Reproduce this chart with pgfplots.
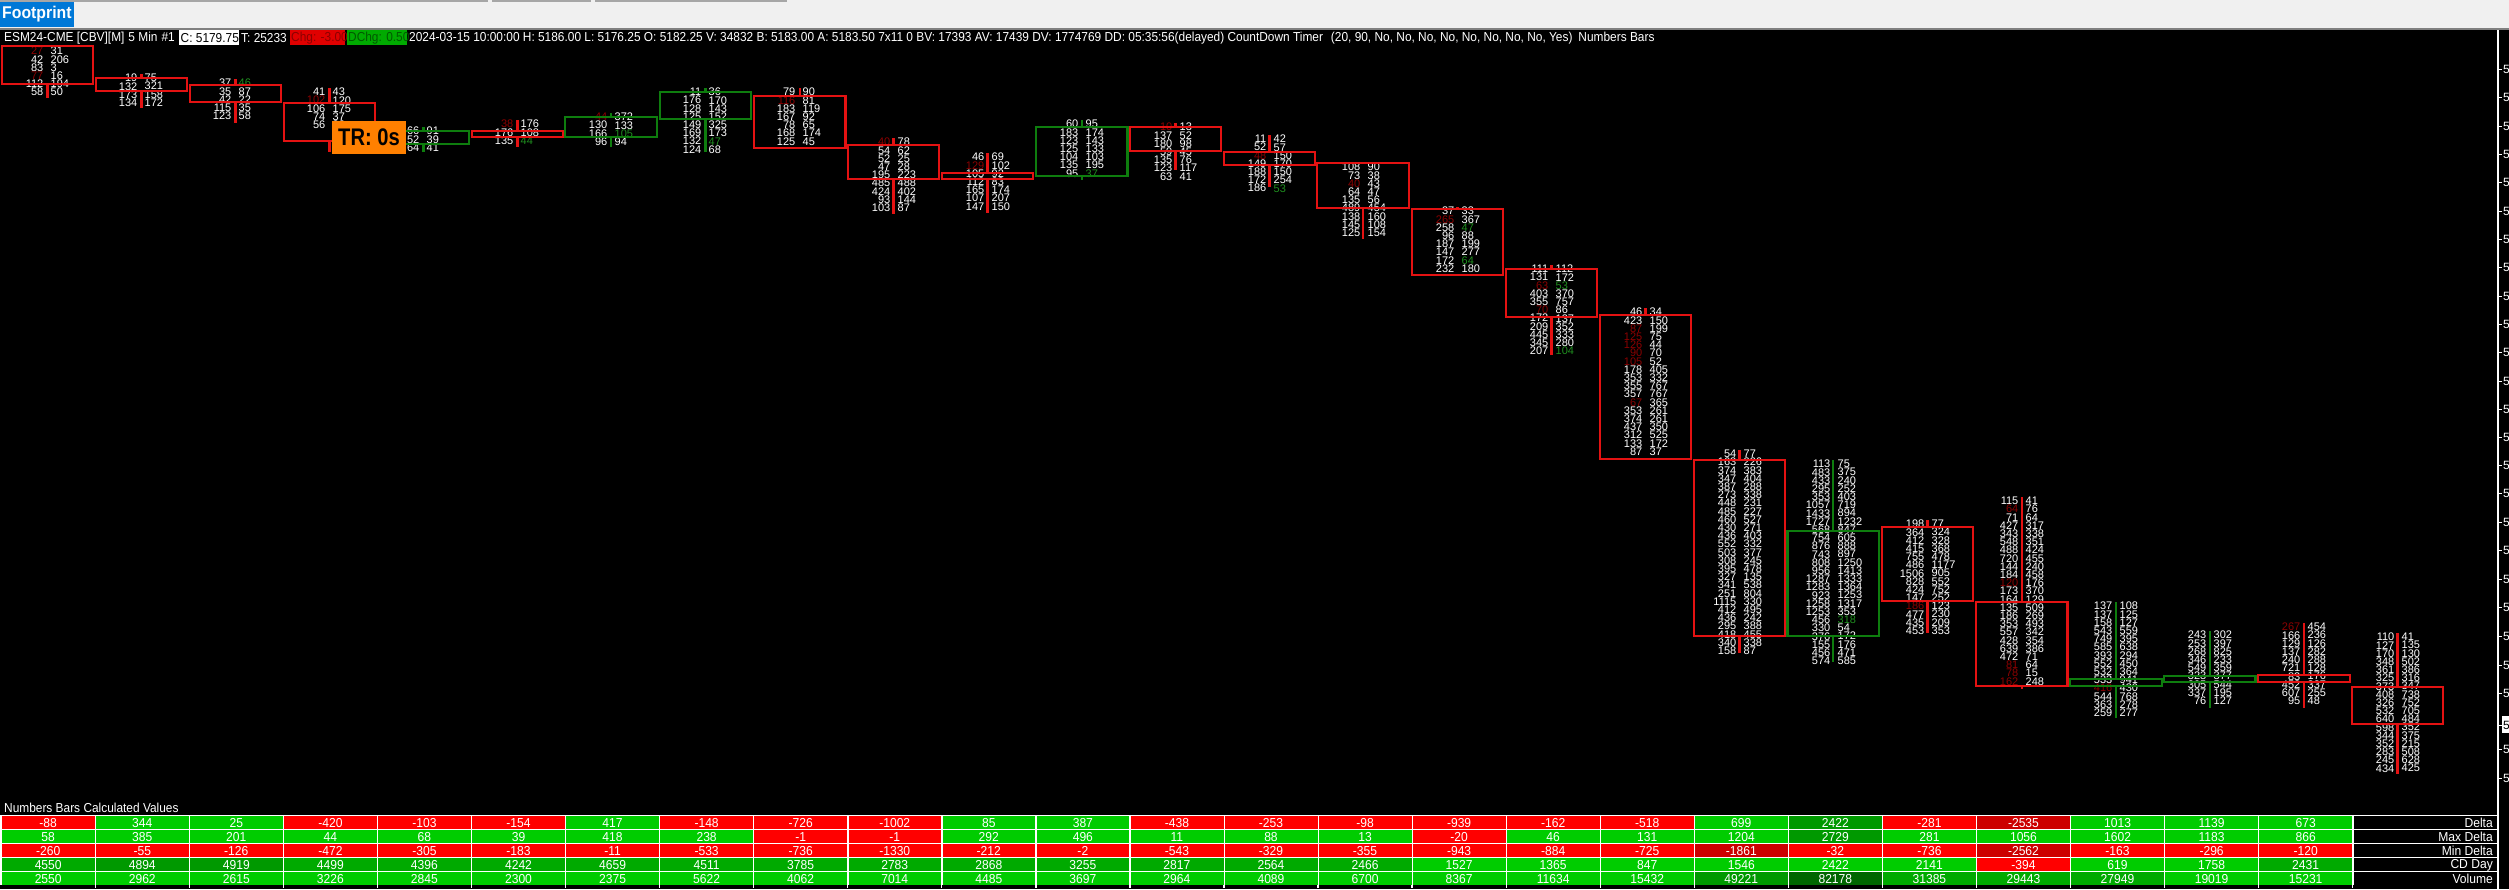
\documentclass[border=0pt]{standalone}
\usepackage{fontspec}
\usepackage{pgfplots}
\pgfplotsset{compat=1.18}
\setmainfont{Liberation Sans}
\newfontfamily\uif[FakeStretch=0.93]{Liberation Sans}
\newfontfamily\hdf[FakeStretch=0.915]{Liberation Sans}
\newfontfamily\trf[FakeStretch=0.84]{Liberation Sans}
\definecolor{cr}{HTML}{E41212}
\definecolor{cg}{HTML}{0E7D0E}
\definecolor{R}{HTML}{FF0000}
\definecolor{D}{HTML}{CC0000}
\definecolor{G}{HTML}{00CC00}
\definecolor{H}{HTML}{00AA00}
\definecolor{I}{HTML}{009900}
\definecolor{J}{HTML}{006600}
\definecolor{dk}{HTML}{8B0000}
\definecolor{gn}{HTML}{1F8F1F}
\definecolor{chrome}{HTML}{F0F0F0}
\definecolor{tab}{HTML}{0078D7}
\definecolor{hred}{HTML}{E00000}
\definecolor{hgrn}{HTML}{00AA00}
\newcommand\rd[1]{\textcolor{dk}{#1}}
\newcommand\gd[1]{\textcolor{gn}{#1}}
\newcount\col
\newcount\row
\newcommand\newrow[1]{\global\col=0 \global\row=#1 }
\newcommand\cell[2]{%
 \pgfmathsetmacro\xa{2+94.06*\the\col}%
 \pgfmathsetmacro\xb{94.8+94.06*\the\col}%
 \pgfmathsetmacro\xc{48.2+94.06*\the\col}%
 \pgfmathsetmacro\ya{816.3+14*\the\row}%
 \pgfmathsetmacro\yb{829.4+14*\the\row}%
 \pgfmathsetmacro\yc{823+14*\the\row}%
 \edef\tmp{\noexpand\addplot[fill=#2,draw=none,forget plot] coordinates {(\xa,\ya)(\xb,\ya)(\xb,\yb)(\xa,\yb)} -- cycle; \noexpand\node[font=\noexpand\fontsize{13}{14}\noexpand\uif,text=white,inner sep=0pt] at (axis cs:\xc,\yc) {#1};}\tmp
 \global\advance\col by 1 }
% xleft xright top bottom high low colour
\newcommand\candle[7]{%
 \addplot[#7,line width=2.2pt,forget plot] coordinates {(#1,#3)(#2,#3)(#2,#4)(#1,#4)} -- cycle;
 \pgfmathsetmacro\xm{(#1+#2)/2}%
 \edef\tmp{\noexpand\addplot[#7,line width=2.2pt,forget plot] coordinates {(\xm,#5)(\xm,#3)}; \noexpand\addplot[#7,line width=2.2pt,forget plot] coordinates {(\xm,#4)(\xm,#6)};}\tmp
}
\newcommand\fp[4]{%
 \node[anchor=north east,xshift=-3.5pt,align=right,inner sep=0pt,text=white,font=\fontsize{11}{8.2}\selectfont\setlength{\lineskiplimit}{-6pt}] at (axis cs:#1,#2) {#3};
 \node[anchor=north west,xshift=3.5pt,align=left,inner sep=0pt,text=white,font=\fontsize{11}{8.2}\selectfont\setlength{\lineskiplimit}{-6pt}] at (axis cs:#1,#2) {#4};
}
\newcommand\hdr[2]{\node[anchor=west,inner sep=0pt,text=white,font=\fontsize{13}{14}\hdf] at (axis cs:#1,38) {#2};}
\newcommand\prc[1]{%
 \addplot[white,line width=1pt,forget plot] coordinates {(2499,#1)(2502,#1)};
 \node[anchor=west,inner sep=0pt,text=white,font=\fontsize{12}{14}\selectfont] at (axis cs:2503,#1) {5};
}
\begin{document}
\begin{tikzpicture}
\begin{axis}[
  scale only axis,width=2509pt,height=889pt,
  xmin=0,xmax=2509,ymin=0,ymax=889,y dir=reverse,
  ticks=none,axis line style={draw=none},
  axis background/.style={fill=black},
  clip=true,
]
% window chrome
\addplot[fill=chrome,draw=none,forget plot] coordinates {(0,0)(2509,0)(2509,28)(0,28)} -- cycle;
\addplot[fill=gray,draw=none,forget plot] coordinates {(0,28)(2509,28)(2509,30)(0,30)} -- cycle;
\addplot[fill=gray!70,draw=none,forget plot] coordinates {(0,0)(488,0)(488,1.5)(0,1.5)} -- cycle;
\addplot[fill=gray!70,draw=none,forget plot] coordinates {(492,0)(591,0)(591,1.5)(492,1.5)} -- cycle;
\addplot[fill=gray!70,draw=none,forget plot] coordinates {(595,0)(787,0)(787,1.5)(595,1.5)} -- cycle;
\addplot[fill=tab,draw=none,forget plot] coordinates {(0,2)(74,2)(74,27)(0,27)} -- cycle;
\node[anchor=west,inner sep=0pt,text=white,font=\fontsize{17}{18}\bfseries\uif] at (axis cs:2,14.5) {Footprint};
% header strip
\addplot[fill=white,draw=none,forget plot] coordinates {(179,30)(239,30)(239,45)(179,45)} -- cycle;
\addplot[fill=hred,draw=none,forget plot] coordinates {(290,30)(345,30)(345,45)(290,45)} -- cycle;
\addplot[fill=hgrn,draw=none,forget plot] coordinates {(347,30)(407,30)(407,45)(347,45)} -- cycle;
\hdr{4}{ESM24-CME [CBV][M]\hspace{4pt}5 Min\hspace{4pt}\#1}
\node[anchor=west,inner sep=0pt,text=black,font=\fontsize{13}{14}\hdf] at (axis cs:180.5,38) {C: 5179.75};
\hdr{241}{T: 25233}
\node[anchor=west,inner sep=0pt,text=dk,font=\fontsize{13}{14}\hdf] at (axis cs:291,38) {Chg: -3.00};
\node[anchor=west,inner sep=0pt,text=black!65!green,font=\fontsize{13}{14}\hdf] at (axis cs:348,38) {DChg: 0.50};
\hdr{409}{2024-03-15 10:00:00 H: 5186.00 L: 5176.25 O: 5182.25 V: 34832 B: 5183.00 A: 5183.50 7x11 0 BV: 17393 AV: 17439 DV: 1774769 DD: 05:35:56(delayed) CountDown Timer\hspace{8pt}(20, 90, No, No, No, No, No, No, No, No, Yes)\hspace{6pt}Numbers Bars}
% right edge
\addplot[white,line width=1.4pt,forget plot] coordinates {(2498,30)(2498,889)};
\prc{69}\prc{97}\prc{126}\prc{154}\prc{182}\prc{211}\prc{239}\prc{267}\prc{296}\prc{324}\prc{352}\prc{381}\prc{409}\prc{437}\prc{465}\prc{493}\prc{522}\prc{550}\prc{579}\prc{607}\prc{636}\prc{665}\prc{693}\prc{749}\prc{778}
\addplot[fill=white,draw=none,forget plot] coordinates {(2502,716)(2509,716)(2509,733)(2502,733)} -- cycle;
\node[anchor=west,inner sep=0pt,text=black,font=\fontsize{12}{14}\selectfont] at (axis cs:2503,725) {5};
\addplot[white,line width=1pt,forget plot] coordinates {(2499,725)(2502,725)};
% footprint numbers
\fp{47}{47}{\rd{27}\\42\\83\\\rd{77}\\112\\58}{31\\206\\3\\16\\194\\50}
\fp{141}{74}{19\\132\\173\\134}{75\\321\\158\\172}
\fp{235}{79}{37\\35\\42\\115\\123}{\gd{46}\\87\\22\\35\\58}
\fp{329}{88}{41\\\rd{102}\\106\\74\\56}{43\\120\\175\\37\\32}
\fp{423}{127}{66\\52\\64}{91\\39\\41}
\fp{517}{120}{\rd{38}\\176\\135}{176\\108\\\gd{44}}
\fp{611}{113}{\rd{44}\\130\\166\\96}{372\\133\\\gd{105}\\94}
\fp{705}{88}{11\\176\\128\\125\\149\\169\\132\\124}{36\\170\\143\\152\\325\\173\\\gd{47}\\68}
\fp{799}{88}{79\\\rd{116}\\183\\167\\78\\168\\125}{90\\81\\119\\92\\65\\174\\45}
\fp{894}{138}{\rd{40}\\54\\52\\47\\195\\485\\424\\93\\103}{78\\62\\25\\28\\223\\488\\402\\144\\87}
\fp{988}{153}{46\\\rd{129}\\105\\112\\165\\107\\147}{69\\102\\92\\83\\174\\207\\150}
\fp{1082}{120}{60\\183\\123\\125\\104\\135\\95}{95\\174\\143\\133\\103\\195\\\gd{37}}
\fp{1176}{123}{\rd{10}\\137\\180\\59\\135\\123\\63}{13\\52\\98\\45\\76\\117\\41}
\fp{1270}{135}{11\\52\\\rd{48}\\149\\188\\172\\186}{42\\57\\150\\170\\150\\254\\\gd{53}}
\fp{1364}{163}{108\\73\\\rd{40}\\64\\135\\489\\138\\145\\125}{90\\38\\43\\47\\56\\454\\160\\108\\154}
\fp{1458}{207}{37\\\rd{265}\\258\\96\\187\\147\\172\\232}{33\\367\\\gd{47}\\88\\199\\277\\\gd{64}\\180}
\fp{1552}{265}{111\\131\\\rd{63}\\403\\355\\\rd{70}\\172\\209\\445\\345\\207}{112\\172\\\gd{53}\\370\\757\\86\\137\\352\\333\\280\\\gd{104}}
\fp{1646}{308}{46\\423\\\rd{87}\\\rd{125}\\\rd{126}\\\rd{90}\\\rd{105}\\178\\353\\355\\357\\\rd{67}\\353\\374\\437\\312\\133\\87}{34\\150\\199\\75\\44\\70\\52\\405\\332\\767\\767\\365\\261\\261\\350\\525\\172\\37}
\fp{1740}{450}{54\\163\\374\\347\\387\\273\\448\\485\\460\\430\\436\\552\\503\\308\\395\\327\\341\\251\\1115\\412\\436\\295\\418\\340\\158}{77\\226\\383\\404\\288\\338\\231\\227\\527\\271\\403\\332\\377\\245\\478\\135\\538\\804\\330\\495\\242\\388\\455\\338\\87}
\fp{1834}{460}{113\\483\\433\\295\\353\\1057\\1433\\1727\\568\\754\\876\\743\\808\\956\\1287\\1283\\923\\1258\\1253\\456\\330\\376\\155\\456\\574}{75\\375\\240\\252\\403\\719\\894\\1232\\847\\605\\888\\897\\1250\\1413\\1333\\1364\\1253\\1317\\353\\\gd{318}\\54\\172\\176\\471\\585}
\fp{1928}{520}{198\\364\\412\\415\\755\\486\\1506\\828\\424\\147\\\rd{186}\\477\\435\\453}{77\\324\\328\\368\\478\\1177\\905\\552\\752\\252\\123\\230\\209\\353}
\fp{2022}{497}{115\\\rd{64}\\71\\427\\343\\548\\488\\720\\144\\184\\\rd{120}\\173\\164\\135\\186\\353\\557\\428\\639\\472\\\rd{81}\\\rd{78}\\\rd{162}}{41\\76\\64\\317\\338\\351\\424\\455\\240\\458\\176\\370\\129\\509\\269\\493\\342\\354\\386\\71\\64\\15\\248}
\fp{2116}{602}{137\\137\\158\\543\\749\\585\\393\\552\\532\\533\\\rd{416}\\544\\363\\259}{108\\125\\127\\559\\395\\638\\294\\450\\364\\941\\430\\768\\278\\277}
\fp{2210}{631}{243\\253\\268\\346\\549\\323\\305\\337\\76}{302\\397\\825\\233\\359\\377\\544\\195\\127}
\fp{2304}{623}{\rd{267}\\166\\129\\137\\240\\721\\83\\452\\607\\95}{454\\236\\126\\282\\288\\128\\176\\337\\255\\48}
\fp{2398}{633}{110\\127\\170\\348\\361\\325\\373\\408\\326\\532\\640\\598\\344\\352\\283\\245\\434}{41\\135\\130\\502\\386\\316\\347\\738\\752\\705\\484\\352\\375\\215\\508\\628\\425}
% candles
\candle{2}{93}{46}{84}{46}{98}{cr}
\candle{96}{187}{78}{91}{74}{108}{cr}
\candle{190}{281}{85}{102}{79}{123}{cr}
\candle{284}{375}{103}{141}{88}{152}{cr}
\candle{378}{469}{131}{144}{127}{152}{cg}
\candle{472}{563}{131}{137}{120}{147}{cr}
\candle{565}{657}{117}{137}{113}{147}{cg}
\candle{660}{751}{92}{119}{88}{152}{cg}
\candle{754}{845.5}{96}{148}{88}{147}{cr}
\candle{848}{939}{145}{179}{138}{214}{cr}
\candle{942}{1033}{173}{179}{153}{213}{cr}
\candle{1036}{1127.5}{127}{176}{120}{180}{cg}
\candle{1130}{1221}{127}{151}{123}{170}{cr}
\candle{1224}{1315}{152}{165}{135}{187}{cr}
\candle{1317}{1409}{163}{208}{163}{239}{cr}
\candle{1412}{1503}{209}{275}{207}{275}{cr}
\candle{1506}{1597}{269}{317}{265}{355}{cr}
\candle{1600}{1691}{315}{459}{308}{460}{cr}
\candle{1694}{1785}{460}{636}{450}{653}{cr}
\candle{1787.5}{1879}{531}{636}{460}{662}{cg}
\candle{1882}{1973}{527}{601}{520}{633}{cr}
\candle{1976}{2067.5}{602}{686}{497}{689}{cr}
\candle{2070}{2162}{679}{686}{602}{718}{cg}
\candle{2164}{2255.5}{676}{682}{631}{708}{cg}
\candle{2258}{2350}{675}{682}{623}{708}{cr}
\candle{2352}{2443}{687}{724}{633}{774}{cr}
% countdown
\addplot[fill=orange,draw=none,forget plot] coordinates {(332,121)(406,121)(406,154)(332,154)} -- cycle;
\node[inner sep=0pt,text=black,font=\fontsize{24}{26}\bfseries\trf] at (axis cs:369,137.5) {TR: 0s};
% table
\node[anchor=west,inner sep=0pt,text=white,font=\fontsize{13}{14}\hdf] at (axis cs:4,808) {Numbers Bars Calculated Values};
\addplot[fill=white,draw=none,forget plot] coordinates {(0,815)(2497,815)(2497,885)(0,885)} -- cycle;
\pgfplotsforeachungrouped \k in {1,...,25}{%
 \pgfmathsetmacro\xt{1.2+94.06*\k}%
 \edef\tmp{\noexpand\addplot[white,line width=1.3pt,forget plot] coordinates {(\xt,885)(\xt,887.5)};}\tmp
}
\newrow{0}
\cell{-88}{R}\cell{344}{G}\cell{25}{G}\cell{-420}{R}\cell{-103}{R}\cell{-154}{R}\cell{417}{G}\cell{-148}{R}\cell{-726}{R}\cell{-1002}{R}\cell{85}{G}\cell{387}{G}\cell{-438}{R}\cell{-253}{R}\cell{-98}{R}\cell{-939}{R}\cell{-162}{R}\cell{-518}{R}\cell{699}{G}\cell{2422}{I}\cell{-281}{R}\cell{-2535}{D}\cell{1013}{G}\cell{1139}{G}\cell{673}{G}
\newrow{1}
\cell{58}{G}\cell{385}{G}\cell{201}{G}\cell{44}{G}\cell{68}{G}\cell{39}{G}\cell{418}{G}\cell{238}{G}\cell{-1}{R}\cell{-1}{R}\cell{292}{G}\cell{496}{G}\cell{11}{G}\cell{88}{G}\cell{13}{G}\cell{-20}{R}\cell{46}{G}\cell{131}{G}\cell{1204}{G}\cell{2729}{I}\cell{281}{G}\cell{1056}{G}\cell{1602}{G}\cell{1183}{G}\cell{866}{G}
\newrow{2}
\cell{-260}{R}\cell{-55}{R}\cell{-126}{R}\cell{-472}{R}\cell{-305}{R}\cell{-183}{R}\cell{-11}{R}\cell{-533}{R}\cell{-736}{R}\cell{-1330}{R}\cell{-212}{R}\cell{-2}{R}\cell{-543}{R}\cell{-329}{R}\cell{-355}{R}\cell{-943}{R}\cell{-884}{R}\cell{-725}{R}\cell{-1861}{D}\cell{-32}{R}\cell{-736}{R}\cell{-2562}{D}\cell{-163}{R}\cell{-296}{R}\cell{-120}{R}
\newrow{3}
\cell{4550}{H}\cell{4894}{I}\cell{4919}{I}\cell{4499}{H}\cell{4396}{H}\cell{4242}{H}\cell{4659}{H}\cell{4511}{H}\cell{3785}{H}\cell{2783}{H}\cell{2868}{H}\cell{3255}{H}\cell{2817}{H}\cell{2564}{H}\cell{2466}{H}\cell{1527}{G}\cell{1365}{G}\cell{847}{G}\cell{1546}{G}\cell{2422}{G}\cell{2141}{G}\cell{-394}{R}\cell{619}{G}\cell{1758}{G}\cell{2431}{H}
\newrow{4}
\cell{2550}{G}\cell{2962}{G}\cell{2615}{G}\cell{3226}{G}\cell{2845}{G}\cell{2300}{G}\cell{2375}{G}\cell{5622}{G}\cell{4062}{G}\cell{7014}{G}\cell{4485}{G}\cell{3697}{G}\cell{2964}{G}\cell{4089}{G}\cell{6700}{G}\cell{8367}{G}\cell{11634}{G}\cell{15432}{G}\cell{49221}{I}\cell{82178}{J}\cell{31385}{H}\cell{29443}{H}\cell{27949}{H}\cell{19019}{G}\cell{15231}{G}
% label cells
\addplot[fill=black,draw=none,forget plot] coordinates {(2354,816.3)(2496.5,816.3)(2496.5,829.4)(2354,829.4)} -- cycle;
\addplot[fill=black,draw=none,forget plot] coordinates {(2354,830.3)(2496.5,830.3)(2496.5,843.4)(2354,843.4)} -- cycle;
\addplot[fill=black,draw=none,forget plot] coordinates {(2354,844.3)(2496.5,844.3)(2496.5,857.4)(2354,857.4)} -- cycle;
\addplot[fill=black,draw=none,forget plot] coordinates {(2354,858.3)(2496.5,858.3)(2496.5,871.4)(2354,871.4)} -- cycle;
\addplot[fill=black,draw=none,forget plot] coordinates {(2354,872.3)(2496.5,872.3)(2496.5,885)(2354,885)} -- cycle;
\node[anchor=east,inner sep=0pt,text=white,font=\fontsize{13}{14}\uif] at (axis cs:2493,823) {Delta};
\node[anchor=east,inner sep=0pt,text=white,font=\fontsize{13}{14}\uif] at (axis cs:2493,837) {Max Delta};
\node[anchor=east,inner sep=0pt,text=white,font=\fontsize{13}{14}\uif] at (axis cs:2493,851) {Min Delta};
\node[anchor=east,inner sep=0pt,text=white,font=\fontsize{13}{14}\uif] at (axis cs:2493,865) {CD Day};
\node[anchor=east,inner sep=0pt,text=white,font=\fontsize{13}{14}\uif] at (axis cs:2493,879) {Volume};
\end{axis}
\end{tikzpicture}
\end{document}
